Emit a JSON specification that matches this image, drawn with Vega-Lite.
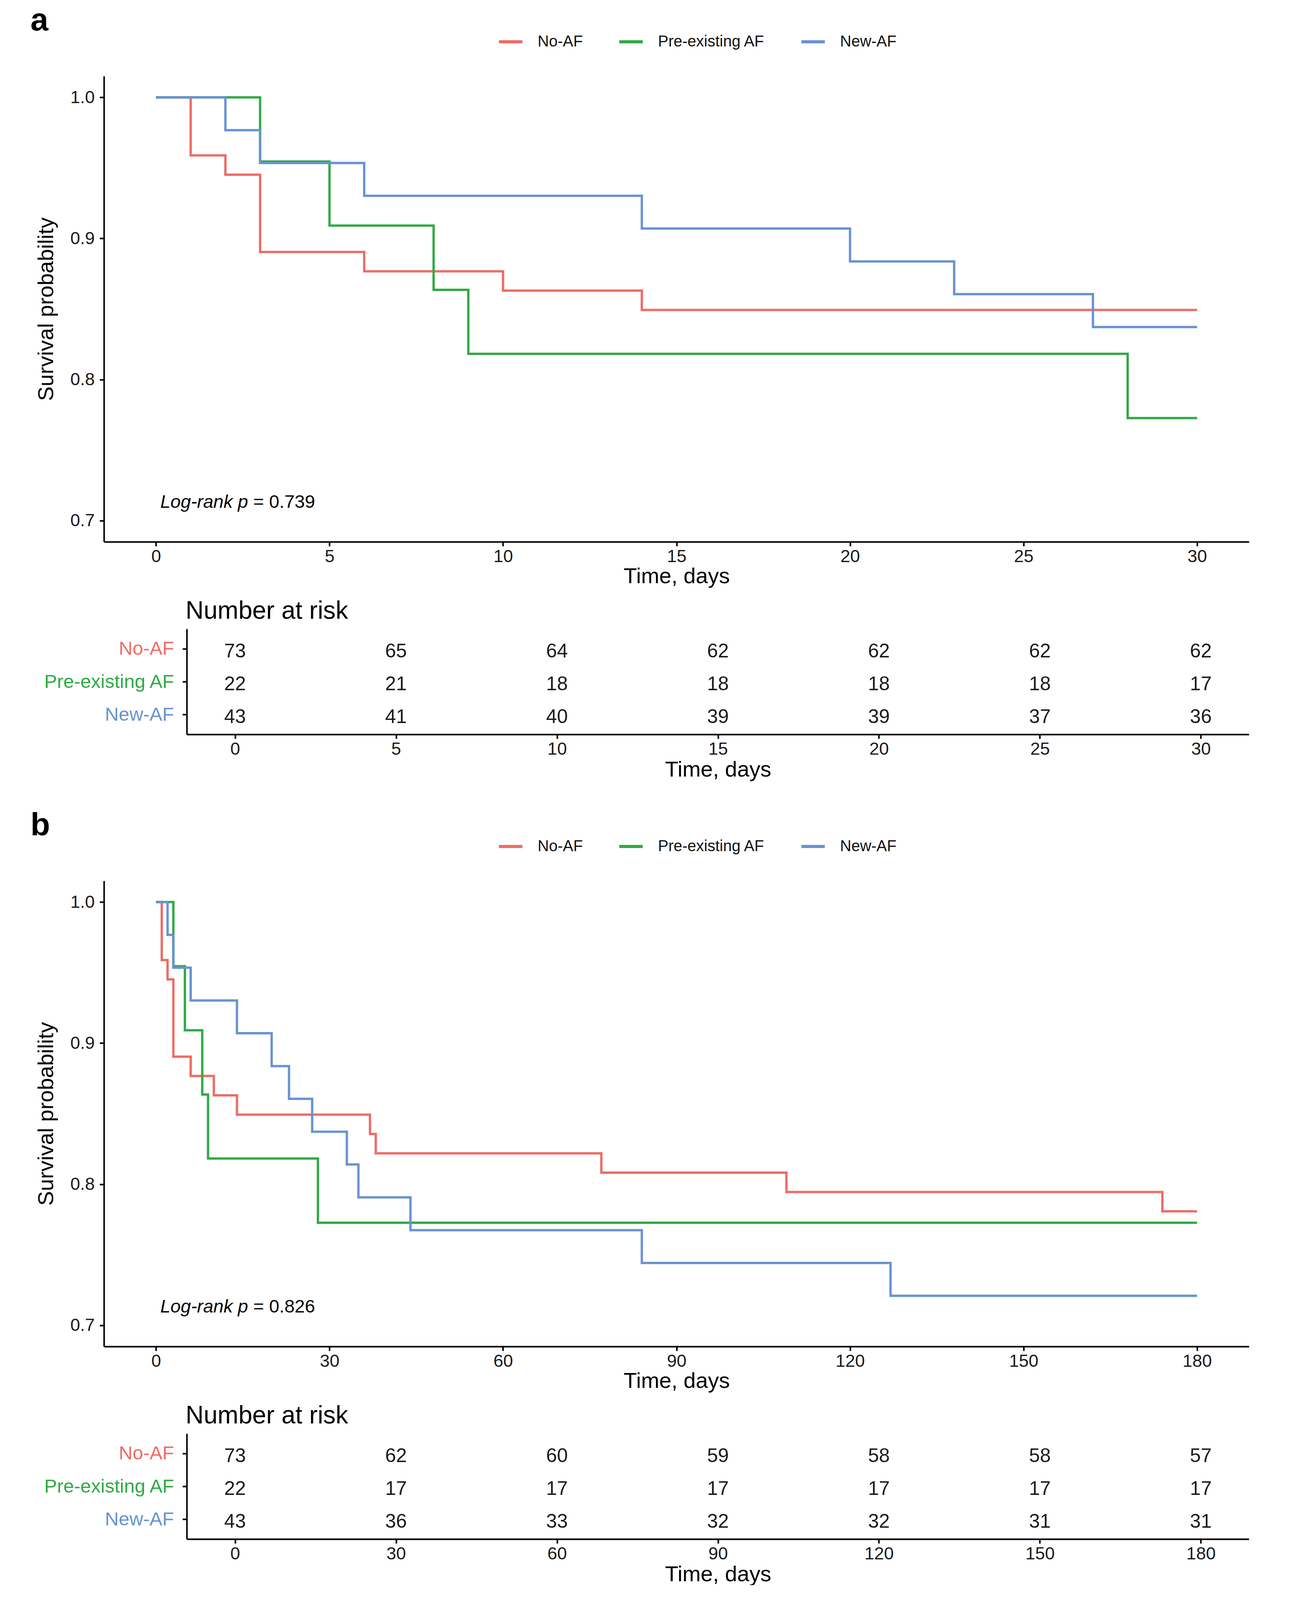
{
  "$schema": "https://vega.github.io/schema/vega-lite/v6.json",
  "background": "white",
  "padding": {"left": 78, "top": 12, "right": 0, "bottom": 0},
  "config": {
    "font": "Liberation Sans",
    "view": {"stroke": null},
    "axis": {
      "grid": false,
      "domainColor": "black",
      "domainWidth": 4,
      "tickColor": "black",
      "tickWidth": 4,
      "tickSize": 11,
      "labelFontSize": 45,
      "labelColor": "#1a1a1a",
      "labelLimit": 1000,
      "titleFontSize": 56,
      "titleFontWeight": "normal",
      "titleColor": "black"
    },
    "legend": {
      "orient": "none",
      "legendX": 1007,
      "legendY": -122,
      "direction": "horizontal",
      "padding": 0,
      "labelFontSize": 40,
      "labelColor": "#111",
      "labelLimit": 1000,
      "symbolType": "stroke",
      "symbolSize": 3600,
      "symbolStrokeWidth": 8,
      "labelOffset": 35,
      "columnPadding": 77
    },
    "title": {"color": "black", "anchor": "start", "frame": "group", "baseline": "alphabetic"}
  },
  "datasets": {
    "kmA": [
      {"group": "No-AF", "time": 0, "surv": 1},
      {"group": "No-AF", "time": 1, "surv": 0.9589},
      {"group": "No-AF", "time": 2, "surv": 0.9452},
      {"group": "No-AF", "time": 3, "surv": 0.8904},
      {"group": "No-AF", "time": 6, "surv": 0.8767},
      {"group": "No-AF", "time": 10, "surv": 0.863},
      {"group": "No-AF", "time": 14, "surv": 0.8493},
      {"group": "No-AF", "time": 30, "surv": 0.8493},
      {"group": "Pre-existing AF", "time": 0, "surv": 1},
      {"group": "Pre-existing AF", "time": 3, "surv": 0.9545},
      {"group": "Pre-existing AF", "time": 5, "surv": 0.9091},
      {"group": "Pre-existing AF", "time": 8, "surv": 0.8636},
      {"group": "Pre-existing AF", "time": 9, "surv": 0.8182},
      {"group": "Pre-existing AF", "time": 28, "surv": 0.7727},
      {"group": "Pre-existing AF", "time": 30, "surv": 0.7727},
      {"group": "New-AF", "time": 0, "surv": 1},
      {"group": "New-AF", "time": 2, "surv": 0.9767},
      {"group": "New-AF", "time": 3, "surv": 0.9535},
      {"group": "New-AF", "time": 6, "surv": 0.9302},
      {"group": "New-AF", "time": 14, "surv": 0.907},
      {"group": "New-AF", "time": 20, "surv": 0.8837},
      {"group": "New-AF", "time": 23, "surv": 0.8605},
      {"group": "New-AF", "time": 27, "surv": 0.8372},
      {"group": "New-AF", "time": 30, "surv": 0.8372}
    ],
    "kmB": [
      {"group": "No-AF", "time": 0, "surv": 1},
      {"group": "No-AF", "time": 1, "surv": 0.9589},
      {"group": "No-AF", "time": 2, "surv": 0.9452},
      {"group": "No-AF", "time": 3, "surv": 0.8904},
      {"group": "No-AF", "time": 6, "surv": 0.8767},
      {"group": "No-AF", "time": 10, "surv": 0.863},
      {"group": "No-AF", "time": 14, "surv": 0.8493},
      {"group": "No-AF", "time": 37, "surv": 0.8356},
      {"group": "No-AF", "time": 38, "surv": 0.8219},
      {"group": "No-AF", "time": 77, "surv": 0.8082},
      {"group": "No-AF", "time": 109, "surv": 0.7945},
      {"group": "No-AF", "time": 174, "surv": 0.7808},
      {"group": "No-AF", "time": 180, "surv": 0.7808},
      {"group": "Pre-existing AF", "time": 0, "surv": 1},
      {"group": "Pre-existing AF", "time": 3, "surv": 0.9545},
      {"group": "Pre-existing AF", "time": 5, "surv": 0.9091},
      {"group": "Pre-existing AF", "time": 8, "surv": 0.8636},
      {"group": "Pre-existing AF", "time": 9, "surv": 0.8182},
      {"group": "Pre-existing AF", "time": 28, "surv": 0.7727},
      {"group": "Pre-existing AF", "time": 180, "surv": 0.7727},
      {"group": "New-AF", "time": 0, "surv": 1},
      {"group": "New-AF", "time": 2, "surv": 0.9767},
      {"group": "New-AF", "time": 3, "surv": 0.9535},
      {"group": "New-AF", "time": 6, "surv": 0.9302},
      {"group": "New-AF", "time": 14, "surv": 0.907},
      {"group": "New-AF", "time": 20, "surv": 0.8837},
      {"group": "New-AF", "time": 23, "surv": 0.8605},
      {"group": "New-AF", "time": 27, "surv": 0.8372},
      {"group": "New-AF", "time": 33, "surv": 0.814},
      {"group": "New-AF", "time": 35, "surv": 0.7907},
      {"group": "New-AF", "time": 44, "surv": 0.7674},
      {"group": "New-AF", "time": 84, "surv": 0.7442},
      {"group": "New-AF", "time": 127, "surv": 0.7209},
      {"group": "New-AF", "time": 180, "surv": 0.7209}
    ],
    "riskA": [
      {"group": "No-AF", "time": 0, "n": 73},
      {"group": "No-AF", "time": 5, "n": 65},
      {"group": "No-AF", "time": 10, "n": 64},
      {"group": "No-AF", "time": 15, "n": 62},
      {"group": "No-AF", "time": 20, "n": 62},
      {"group": "No-AF", "time": 25, "n": 62},
      {"group": "No-AF", "time": 30, "n": 62},
      {"group": "Pre-existing AF", "time": 0, "n": 22},
      {"group": "Pre-existing AF", "time": 5, "n": 21},
      {"group": "Pre-existing AF", "time": 10, "n": 18},
      {"group": "Pre-existing AF", "time": 15, "n": 18},
      {"group": "Pre-existing AF", "time": 20, "n": 18},
      {"group": "Pre-existing AF", "time": 25, "n": 18},
      {"group": "Pre-existing AF", "time": 30, "n": 17},
      {"group": "New-AF", "time": 0, "n": 43},
      {"group": "New-AF", "time": 5, "n": 41},
      {"group": "New-AF", "time": 10, "n": 40},
      {"group": "New-AF", "time": 15, "n": 39},
      {"group": "New-AF", "time": 20, "n": 39},
      {"group": "New-AF", "time": 25, "n": 37},
      {"group": "New-AF", "time": 30, "n": 36}
    ],
    "riskB": [
      {"group": "No-AF", "time": 0, "n": 73},
      {"group": "No-AF", "time": 30, "n": 62},
      {"group": "No-AF", "time": 60, "n": 60},
      {"group": "No-AF", "time": 90, "n": 59},
      {"group": "No-AF", "time": 120, "n": 58},
      {"group": "No-AF", "time": 150, "n": 58},
      {"group": "No-AF", "time": 180, "n": 57},
      {"group": "Pre-existing AF", "time": 0, "n": 22},
      {"group": "Pre-existing AF", "time": 30, "n": 17},
      {"group": "Pre-existing AF", "time": 60, "n": 17},
      {"group": "Pre-existing AF", "time": 90, "n": 17},
      {"group": "Pre-existing AF", "time": 120, "n": 17},
      {"group": "Pre-existing AF", "time": 150, "n": 17},
      {"group": "Pre-existing AF", "time": 180, "n": 17},
      {"group": "New-AF", "time": 0, "n": 43},
      {"group": "New-AF", "time": 30, "n": 36},
      {"group": "New-AF", "time": 60, "n": 33},
      {"group": "New-AF", "time": 90, "n": 32},
      {"group": "New-AF", "time": 120, "n": 32},
      {"group": "New-AF", "time": 150, "n": 31},
      {"group": "New-AF", "time": 180, "n": 31}
    ],
    "annA": [{"x": 0, "y": 0.713, "lab": "Log-rank p", "val": "= 0.739"}],
    "annB": [{"x": 0, "y": 0.713, "lab": "Log-rank p", "val": "= 0.826"}]
  },
  "spacing": 74,
  "resolve": {"scale": {"x": "independent", "y": "independent", "color": "independent"}, "legend": {"color": "independent"}},
  "vconcat": [
    {
      "spacing": 30,
      "resolve": {"scale": {"x": "independent", "y": "independent", "color": "independent"}, "legend": {"color": "independent"}},
      "vconcat": [
        {
          "width": 2931,
          "height": 1192,
          "title": {"text": "a", "fontSize": 82, "fontWeight": "bold", "dx": -188, "offset": -22},
          "layer": [
            {
              "data": {"name": "kmA"},
              "mark": {"type": "line", "interpolate": "step-after", "strokeWidth": 6},
              "encoding": {
                "x": {"field": "time", "type": "quantitative", "scale": {"domain": [-1.5, 31.5], "nice": false, "zero": false},
                      "axis": {"values": [0, 5, 10, 15, 20, 25, 30], "format": "d", "title": "Time, days", "labelPadding": 4, "titlePadding": 1}},
                "y": {"field": "surv", "type": "quantitative", "scale": {"domain": [0.685, 1.015], "nice": false, "zero": false},
                      "axis": {"values": [0.7, 0.8, 0.9, 1.0], "format": ".1f", "title": "Survival probability", "labelPadding": 13, "titlePadding": 32}},
                "color": {"field": "group", "type": "nominal",
                          "scale": {"domain": ["No-AF", "Pre-existing AF", "New-AF"], "range": ["#EF6C65", "#2FAA45", "#6893D3"]},
                          "legend": {"title": null}}
              }
            },
            {
              "data": {"name": "annA"},
              "mark": {"type": "text", "align": "left", "baseline": "middle", "fontStyle": "italic", "fontSize": 47, "dx": 11, "color": "black"},
              "encoding": {"x": {"field": "x", "type": "quantitative"}, "y": {"field": "y", "type": "quantitative"}, "text": {"field": "lab"}}
            },
            {
              "data": {"name": "annA"},
              "mark": {"type": "text", "align": "left", "baseline": "middle", "fontSize": 47, "dx": 249, "color": "black"},
              "encoding": {"x": {"field": "x", "type": "quantitative"}, "y": {"field": "y", "type": "quantitative"}, "text": {"field": "val"}}
            }
          ]
        },
        {
          "width": 2931,
          "height": 270,
          "title": {"text": "Number at risk", "fontSize": 64, "fontWeight": "normal", "dx": 209, "offset": 13},
          "data": {"name": "riskA"},
          "mark": {"type": "text", "fontSize": 50, "baseline": "middle", "dy": 7, "color": "#1a1a1a"},
          "encoding": {
            "x": {"field": "time", "type": "quantitative", "scale": {"domain": [-1.5, 31.5], "nice": false, "zero": false, "range": [212, 2931]},
                  "axis": {"values": [0, 5, 10, 15, 20, 25, 30], "format": "d", "title": "Time, days", "labelPadding": 4, "titlePadding": 3}},
            "y": {"field": "group", "type": "nominal", "sort": ["No-AF", "Pre-existing AF", "New-AF"],
                  "scale": {"domain": ["No-AF", "Pre-existing AF", "New-AF"], "padding": 0.6},
                  "axis": {"title": null, "offset": -212, "labelPadding": 22, "labelFontSize": 49,
                           "labelColor": {"expr": "datum.value === 'No-AF' ? '#EF6C65' : datum.value === 'Pre-existing AF' ? '#2FAA45' : '#6893D3'"}}},
            "text": {"field": "n", "type": "quantitative"}
          }
        }
      ]
    },
    {
      "spacing": 30,
      "resolve": {"scale": {"x": "independent", "y": "independent", "color": "independent"}, "legend": {"color": "independent"}},
      "vconcat": [
        {
          "width": 2931,
          "height": 1192,
          "title": {"text": "b", "fontSize": 82, "fontWeight": "bold", "dx": -188, "offset": -22},
          "layer": [
            {
              "data": {"name": "kmB"},
              "mark": {"type": "line", "interpolate": "step-after", "strokeWidth": 6},
              "encoding": {
                "x": {"field": "time", "type": "quantitative", "scale": {"domain": [-9, 189], "nice": false, "zero": false},
                      "axis": {"values": [0, 30, 60, 90, 120, 150, 180], "format": "d", "title": "Time, days", "labelPadding": 4, "titlePadding": 1}},
                "y": {"field": "surv", "type": "quantitative", "scale": {"domain": [0.685, 1.015], "nice": false, "zero": false},
                      "axis": {"values": [0.7, 0.8, 0.9, 1.0], "format": ".1f", "title": "Survival probability", "labelPadding": 13, "titlePadding": 32}},
                "color": {"field": "group", "type": "nominal",
                          "scale": {"domain": ["No-AF", "Pre-existing AF", "New-AF"], "range": ["#EF6C65", "#2FAA45", "#6893D3"]},
                          "legend": {"title": null}}
              }
            },
            {
              "data": {"name": "annB"},
              "mark": {"type": "text", "align": "left", "baseline": "middle", "fontStyle": "italic", "fontSize": 47, "dx": 11, "color": "black"},
              "encoding": {"x": {"field": "x", "type": "quantitative"}, "y": {"field": "y", "type": "quantitative"}, "text": {"field": "lab"}}
            },
            {
              "data": {"name": "annB"},
              "mark": {"type": "text", "align": "left", "baseline": "middle", "fontSize": 47, "dx": 249, "color": "black"},
              "encoding": {"x": {"field": "x", "type": "quantitative"}, "y": {"field": "y", "type": "quantitative"}, "text": {"field": "val"}}
            }
          ]
        },
        {
          "width": 2931,
          "height": 270,
          "title": {"text": "Number at risk", "fontSize": 64, "fontWeight": "normal", "dx": 209, "offset": 13},
          "data": {"name": "riskB"},
          "mark": {"type": "text", "fontSize": 50, "baseline": "middle", "dy": 7, "color": "#1a1a1a"},
          "encoding": {
            "x": {"field": "time", "type": "quantitative", "scale": {"domain": [-9, 189], "nice": false, "zero": false, "range": [212, 2931]},
                  "axis": {"values": [0, 30, 60, 90, 120, 150, 180], "format": "d", "title": "Time, days", "labelPadding": 4, "titlePadding": 3}},
            "y": {"field": "group", "type": "nominal", "sort": ["No-AF", "Pre-existing AF", "New-AF"],
                  "scale": {"domain": ["No-AF", "Pre-existing AF", "New-AF"], "padding": 0.6},
                  "axis": {"title": null, "offset": -212, "labelPadding": 22, "labelFontSize": 49,
                           "labelColor": {"expr": "datum.value === 'No-AF' ? '#EF6C65' : datum.value === 'Pre-existing AF' ? '#2FAA45' : '#6893D3'"}}},
            "text": {"field": "n", "type": "quantitative"}
          }
        }
      ]
    }
  ]
}
